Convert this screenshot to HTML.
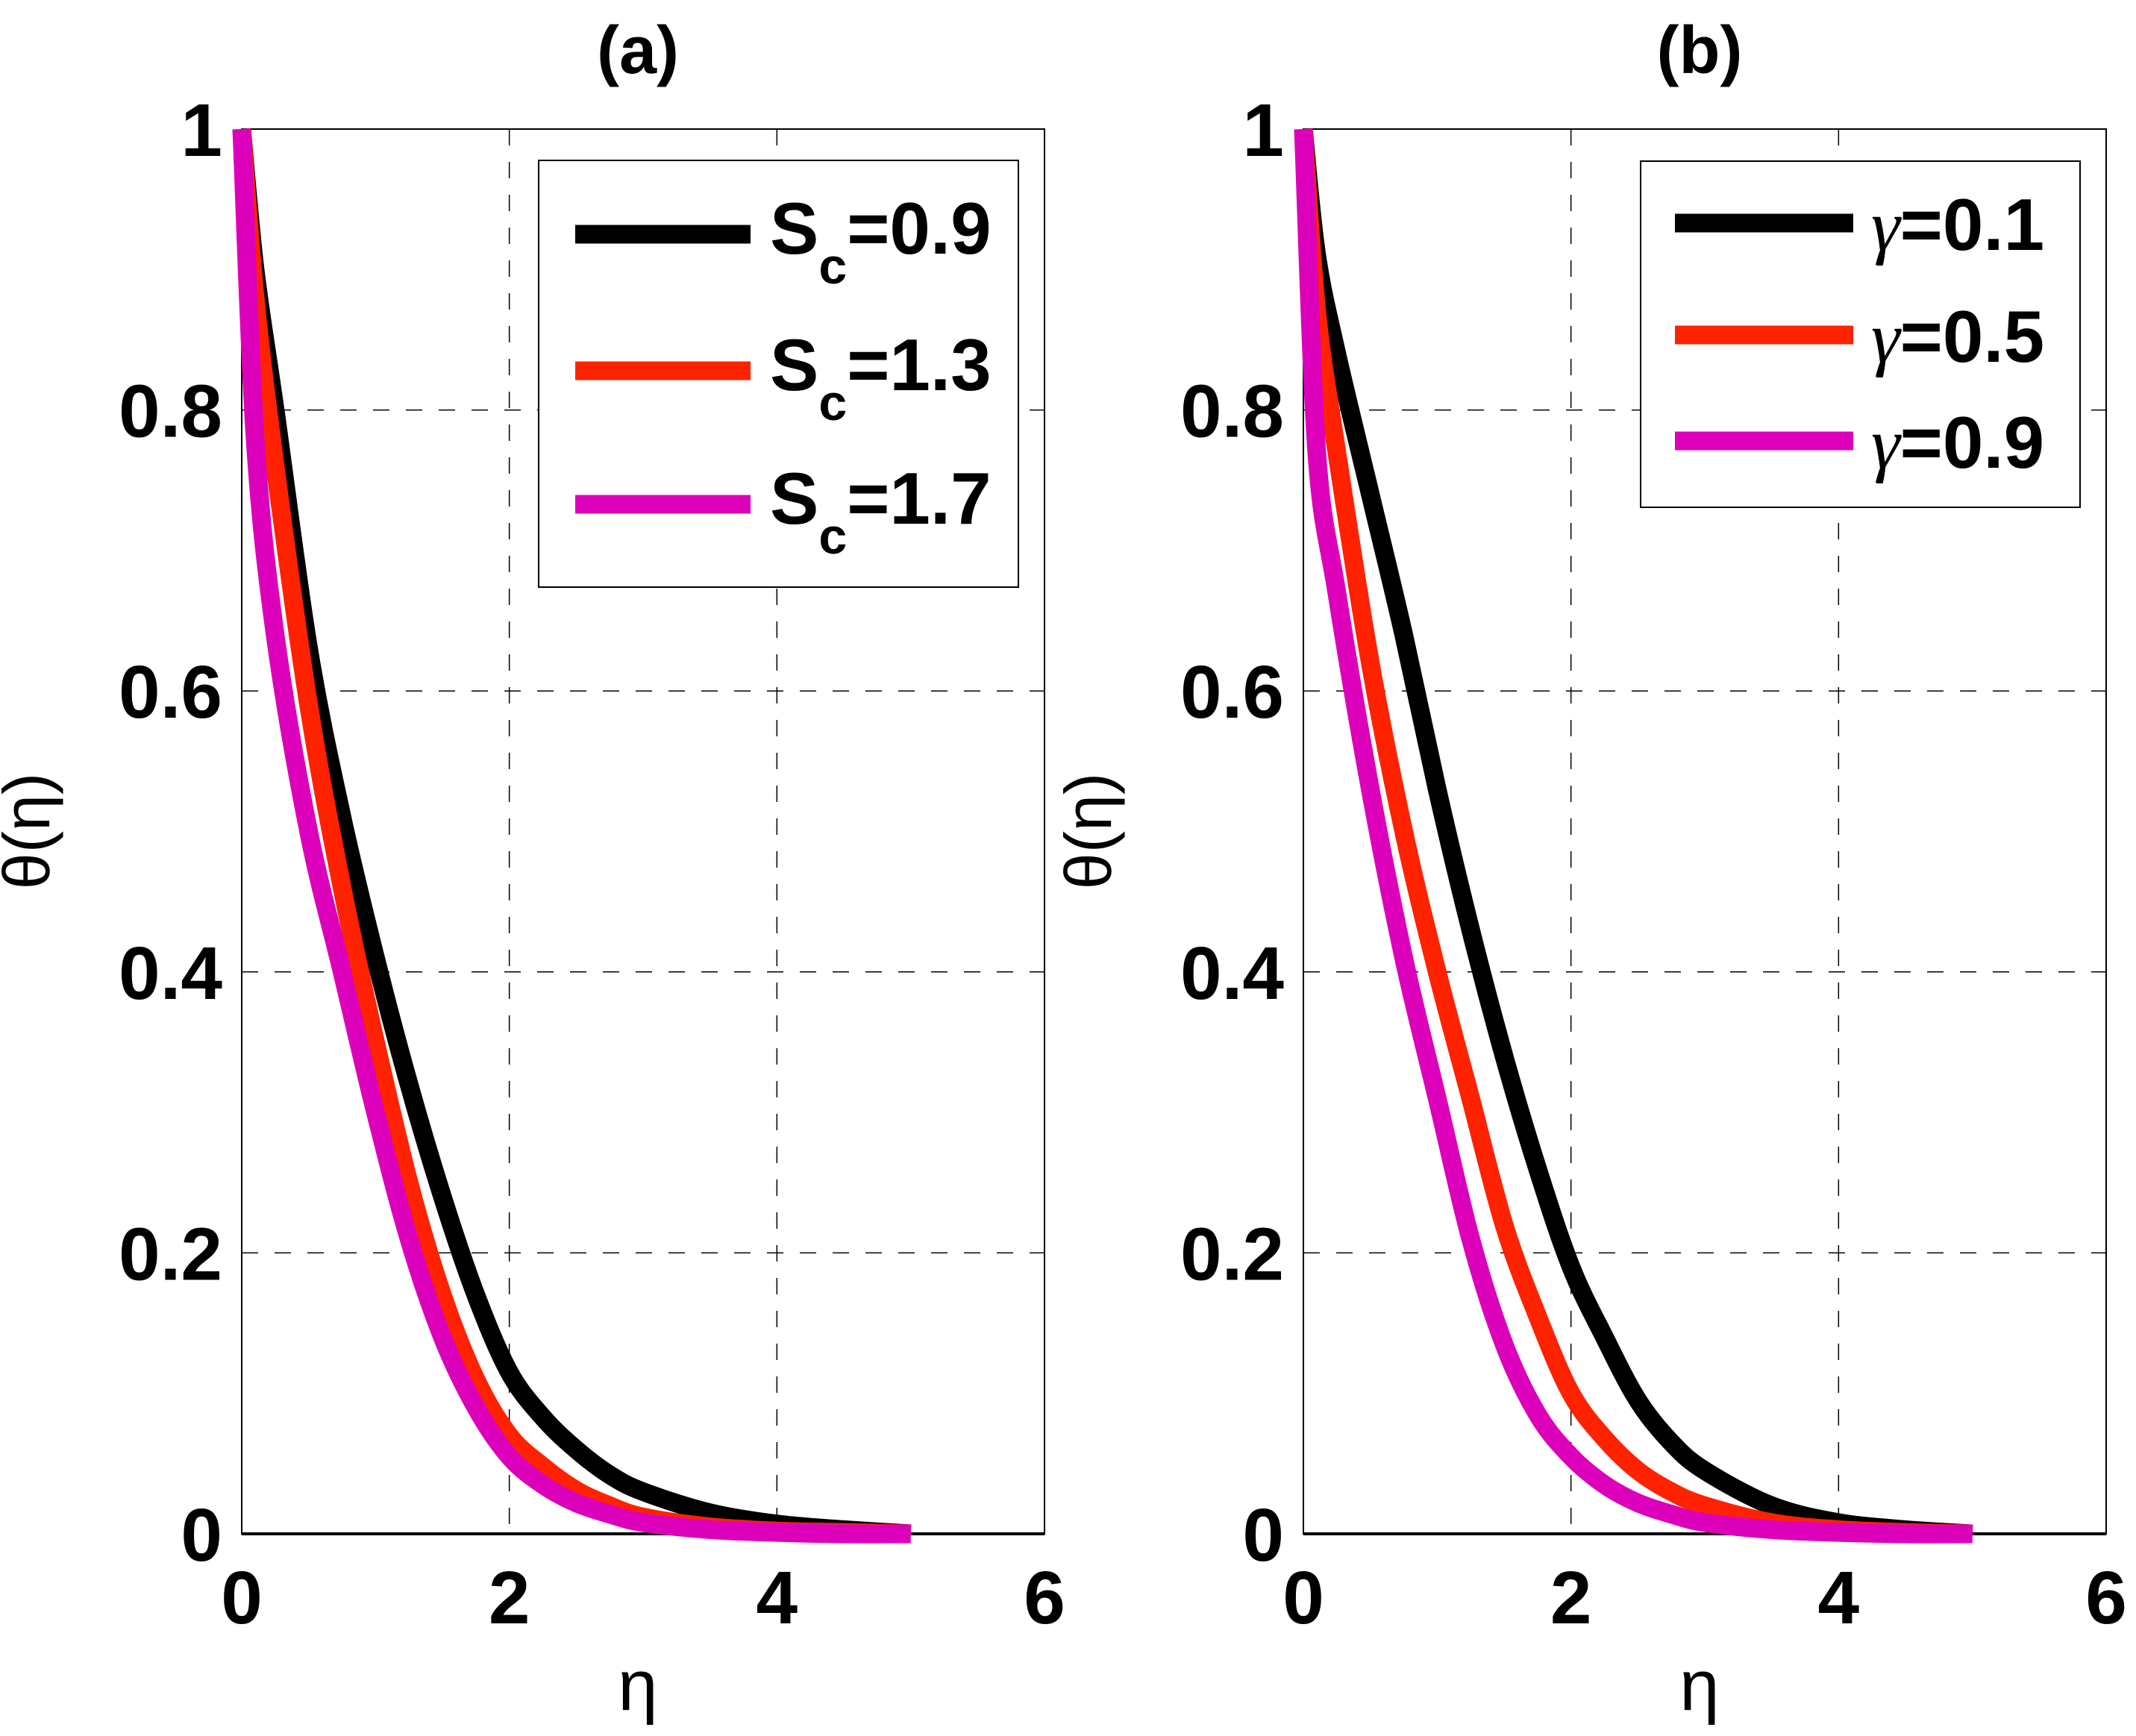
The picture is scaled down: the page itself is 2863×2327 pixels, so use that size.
<!DOCTYPE html>
<html><head><meta charset="utf-8"><style>
html,body{margin:0;padding:0;background:#fff;}
svg{display:block;}
text{font-family:"Liberation Sans",sans-serif;}
</style></head><body>
<svg id="chart" width="2863" height="2327" viewBox="0 0 2863 2327" xmlns="http://www.w3.org/2000/svg">
<rect x="0" y="0" width="2863" height="2327" fill="#fff"/>
</svg>
<script>
const etaValues = [0, 0.1, 0.25, 0.5, 0.75, 1, 1.25, 1.5, 1.75, 2, 2.25, 2.5, 2.75, 3, 3.5, 4, 4.5, 5];
const xTicks = [0, 2, 4, 6];
const yTicks = [0, 0.2, 0.4, 0.6, 0.8, 1];
const yTickLabels = ["0", "0.2", "0.4", "0.6", "0.8", "1"];
const seriesAColors = ["#000000", "#ff2200", "#dd00bb"];
const seriesALabels = ["0.9", "1.3", "1.7"];
const seriesA1 = [1, 0.9, 0.8, 0.63, 0.51, 0.41, 0.32, 0.24, 0.17, 0.115, 0.083, 0.06, 0.042, 0.03, 0.015, 0.007, 0.003, 0];
const seriesA2 = [1, 0.88, 0.76, 0.59, 0.46, 0.35, 0.25, 0.17, 0.11, 0.07, 0.048, 0.031, 0.02, 0.012, 0.005, 0.002, 0.001, 0];
const seriesA3 = [1, 0.78, 0.64, 0.5, 0.4, 0.3, 0.21, 0.14, 0.09, 0.055, 0.035, 0.022, 0.014, 0.008, 0.003, 0.001, 0, 0];
const seriesBLabels = ["0.1", "0.5", "0.9"];
const seriesB1 = [1, 0.91, 0.84, 0.74, 0.64, 0.53, 0.43, 0.34, 0.26, 0.19, 0.14, 0.095, 0.065, 0.045, 0.02, 0.008, 0.003, 0];
const seriesB2 = [1, 0.87, 0.77, 0.62, 0.5, 0.4, 0.31, 0.22, 0.155, 0.1, 0.068, 0.045, 0.03, 0.02, 0.008, 0.003, 0.001, 0];
const seriesB3 = [1, 0.77, 0.67, 0.53, 0.41, 0.31, 0.21, 0.135, 0.085, 0.055, 0.035, 0.022, 0.014, 0.008, 0.003, 0.001, 0, 0];

const NS = "http://www.w3.org/2000/svg";
const svg = document.getElementById("chart");
function mk(tag, attrs, parent, txt) {
  const e = document.createElementNS(NS, tag);
  for (const k in attrs) e.setAttribute(k, attrs[k]);
  if (txt !== undefined) e.textContent = txt;
  (parent || svg).appendChild(e);
  return e;
}
function smoothPath(P) {
  let d = "M" + P[0][0].toFixed(1) + "," + P[0][1].toFixed(1);
  for (let i = 0; i < P.length - 1; i++) {
    const p0 = P[Math.max(i - 1, 0)], p1 = P[i], p2 = P[i + 1], p3 = P[Math.min(i + 2, P.length - 1)];
    const c1x = p1[0] + (p2[0] - p0[0]) / 6, c1y = p1[1] + (p2[1] - p0[1]) / 6;
    const c2x = p2[0] - (p3[0] - p1[0]) / 6, c2y = p2[1] - (p3[1] - p1[1]) / 6;
    d += " C" + c1x.toFixed(1) + "," + c1y.toFixed(1) + " " + c2x.toFixed(1) + "," + c2y.toFixed(1) + " " + p2[0].toFixed(1) + "," + p2[1].toFixed(1);
  }
  return d;
}
const TOP = 173, BOT = 2056, W = 1076;
function panel(id, left, title, series, labels, legendBox, legendYs, isGamma) {
  const g = mk("g", {});
  
  
  const xs = v => left + v / 6 * W;
  const ys = v => BOT - v * (BOT - TOP);
  xTicks.slice(1, -1).forEach(t => {
    const l = mk("line", {x1: xs(t), x2: xs(t), y1: TOP, y2: BOT, stroke: "#000", "stroke-width": 1.5, "stroke-dasharray": "22 22"}, g);
    
    
  });
  yTicks.slice(1, -1).forEach(t => {
    const l = mk("line", {x1: left, x2: left + W, y1: ys(t), y2: ys(t), stroke: "#000", "stroke-width": 1.5, "stroke-dasharray": "22 22"}, g);
    
    
  });
  const box = mk("rect", {x: left, y: TOP, width: W, height: BOT - TOP, fill: "none", stroke: "#000", "stroke-width": 2}, g);
  
  
  const bl = mk("line", {x1: left, x2: left + W, y1: BOT, y2: BOT, stroke: "#000", "stroke-width": 4}, g);
  
  
  xTicks.forEach(t => {
    const tx = mk("text", {x: xs(t), y: 2176, "font-size": 100, "font-weight": "bold", "text-anchor": "middle"}, g, String(t));
    
    
  });
  yTicks.forEach((t, i) => {
    const tx = mk("text", {x: left - 26, y: ys(t) + 36, "font-size": 100, "font-weight": "bold", "text-anchor": "end"}, g, yTickLabels[i]);
    
    
  });
  const ti = mk("text", {x: left + 531, y: 98, "font-size": 90, "font-weight": "bold", "text-anchor": "middle"}, g, title);
  
  
  const xl = mk("text", {x: left + 531, y: 2292, "font-size": 96, "text-anchor": "middle", "font-family": "Liberation Serif, serif"}, g, "η");
  
  
  const yl = mk("text", {x: 0, y: 0, "font-size": 88, "text-anchor": "middle", "font-family": "Liberation Serif, serif", transform: `translate(${left - 258},1114) rotate(-90)`}, g, "θ(η)");
  
  
  series.forEach((vals, si) => {
    const P = etaValues.map((e, i) => [xs(e), ys(vals[i])]);
    const pl = mk("path", {d: smoothPath(P), fill: "none", stroke: seriesAColors[si], "stroke-width": 25, "stroke-linejoin": "round"}, g);
    
    
  });
  const lg = mk("g", {}, g);
  
  
  mk("rect", {x: legendBox[0], y: legendBox[1], width: legendBox[2], height: legendBox[3], fill: "#fff", stroke: "#000", "stroke-width": 2}, lg);
  labels.forEach((lab, i) => {
    const y = legendYs[i];
    const en = mk("g", {}, lg);
    
    
    mk("line", {x1: legendBox[4], x2: legendBox[5], y1: y, y2: y, stroke: seriesAColors[i], "stroke-width": 25}, en);
    if (isGamma) {
      const t = mk("text", {x: legendBox[5] + 24, y: y + 36, "font-size": 98, "font-weight": "bold"}, en);
      mk("tspan", {"font-family": "Liberation Serif, serif", "font-style": "italic", "font-weight": "normal"}, t, "γ");
      mk("tspan", {}, t, "=" + lab);
    } else {
      const t = mk("text", {x: legendBox[5] + 26, y: y + 26, "font-size": 98, "font-weight": "bold"}, en);
      mk("tspan", {}, t, "S");
      mk("tspan", {dy: 40, "font-size": 68}, t, "c");
      mk("tspan", {dy: -40}, t, "=" + lab);
    }
  });
}
panel("a", 324, "(a)", [seriesA1, seriesA2, seriesA3], seriesALabels, [722, 215, 643, 572, 771, 1006], [314, 497, 676], false);
panel("b", 1747, "(b)", [seriesB1, seriesB2, seriesB3], seriesBLabels, [2199, 216, 589, 464, 2245, 2484], [299, 449, 591], true);
</script>
</body></html>
